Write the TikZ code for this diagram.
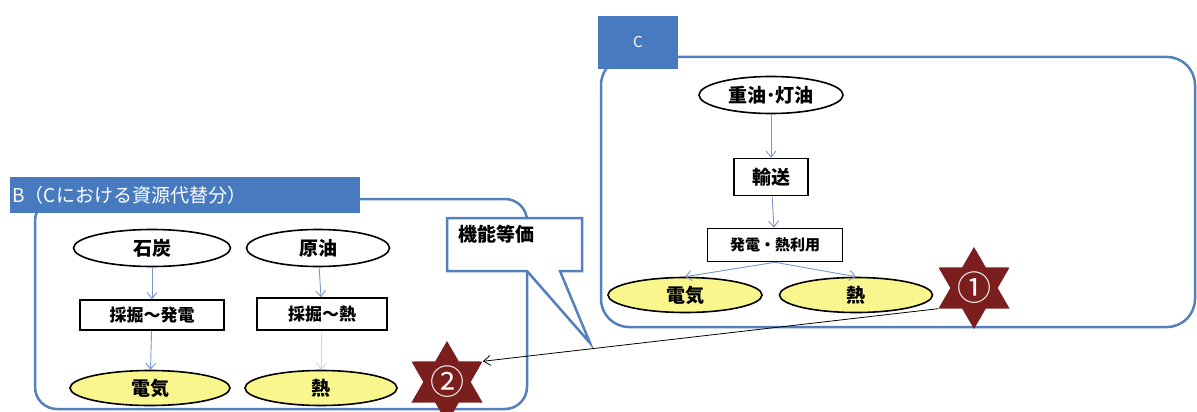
\documentclass[tikz,border=0pt]{standalone}
\usepackage{fontspec}
\setmainfont{Noto Sans CJK JP}
\usetikzlibrary{shapes.geometric,arrows.meta}
\definecolor{frameblue}{RGB}{84,128,188}
\definecolor{tabblue}{RGB}{72,122,192}
\definecolor{flowblue}{RGB}{120,150,200}
\definecolor{starred}{RGB}{122,30,30}
\definecolor{fuelyellow}{RGB}{248,246,140}
\tikzset{
  frame/.style={draw=frameblue,line width=2.5pt,rounded corners=28pt},
  tab/.style={fill=tabblue,text=white,inner sep=0pt},
  source/.style={ellipse,draw,line width=1.6pt,inner sep=0pt,font=\fontsize{19}{22}\selectfont\bfseries},
  energy/.style={source,fill=fuelyellow},
  process/.style={draw,line width=1.6pt,inner sep=0pt,font=\fontsize{17}{20}\selectfont\bfseries},
  flow/.style={draw=flowblue,line width=0.9pt,-{Straight Barb[length=6pt,width=10pt]}},
  sixstar/.style={star,star points=6,star point ratio=1.73,fill=starred,
    minimum size=82pt,inner sep=0pt},
  digit/.style={text=white,font=\fontsize{34}{36}\selectfont}
}
\begin{document}
\begin{tikzpicture}[x=1pt,y=-1pt]
  \useasboundingbox (0,0) rectangle (1197,412);
  % C
  \draw [frame] (601,57) rectangle (1195,327);
  \node [tab,minimum width=80pt,minimum height=53pt,font=\fontsize{15}{17}\selectfont] (tabC) at (638,42.5) {C};
  \node [source,minimum width=144pt,minimum height=37pt] (fuel) at (771,95) {重油･灯油};
  \node [process,minimum width=74pt,minimum height=37pt,font=\fontsize{19}{22}\selectfont\bfseries] (transport) at (771,177) {輸送};
  \node [process,minimum width=135pt,minimum height=33pt,font=\fontsize{15}{18}\selectfont\bfseries] (use) at (775,245) {発電・熱利用};
  \node [energy,minimum width=154pt,minimum height=35pt] (elecC) at (685,295) {電気};
  \node [energy,minimum width=153pt,minimum height=35pt] (heatC) at (856,295) {熱};
  \node [sixstar,label={[digit]center:①}] (one) at (974,288) {};
  \draw [flow] (fuel) -- (transport);
  \draw [flow] (transport) -- (use);
  \draw [flow] (use.south) -- (elecC.north);
  \draw [flow] (use.south) -- (heatC.north);
  % B
  \draw [frame,rounded corners=22pt] (35,199) rectangle (527,409);
  \node [tab,minimum width=350pt,minimum height=36pt,text width=345pt,align=left,font=\fontsize{19}{21}\selectfont] (tabB) at (185,195) {B（Cにおける資源代替分）};
  \node [source,minimum width=157pt,minimum height=37pt] (coal) at (152,248) {石炭};
  \node [process,minimum width=144pt,minimum height=30pt] (mineE) at (152,315) {採掘～発電};
  \node [energy,minimum width=160pt,minimum height=35pt] (elecB) at (150,388) {電気};
  \node [source,minimum width=143pt,minimum height=37pt] (crude) at (318,248) {原油};
  \node [process,minimum width=130pt,minimum height=32pt] (mineH) at (322,314) {採掘～熱};
  \node [energy,minimum width=152pt,minimum height=35pt] (heatB) at (321,388) {熱};
  \node [sixstar,label={[digit]center:②}] (two) at (447,382) {};
  \draw [flow] (coal) -- (mineE);
  \draw [flow] (mineE) -- (elecB);
  \draw [flow] (crude) -- (mineH);
  \draw [flow,draw=flowblue!40] (mineH) -- (heatB);
  % callout
  \draw [draw=frameblue,line width=2.5pt,fill=white,line join=miter]
    (447,218) -- (582,218) -- (582,271) -- (560,271) -- (590,343) -- (527,271) -- (447,271) -- cycle;
  \node [anchor=north west,inner sep=0pt,font=\fontsize{19}{22}\selectfont\bfseries] (equiv) at (458,225) {機能等価};
  \draw [line width=0.8pt,-{Straight Barb[length=7pt,width=10pt]}] (one.210) -- (two.30);
\end{tikzpicture}
\end{document}
